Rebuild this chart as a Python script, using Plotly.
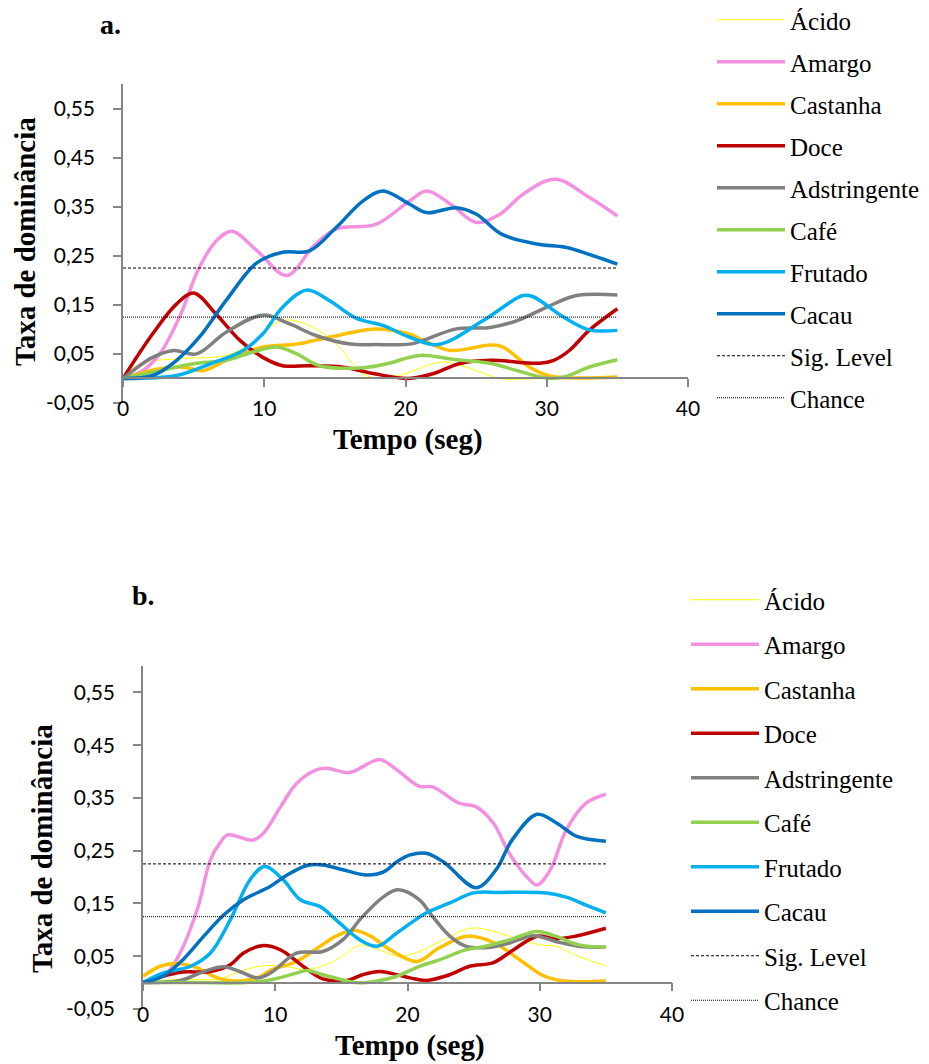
import plotly.graph_objects as go

W, H = 929, 1064
OFF = 8  # page body margin in the browser

NAMES = ["Ácido", "Amargo", "Castanha", "Doce", "Adstringente", "Café", "Frutado", "Cacau"]
COLORS = ["#FFFF00", "#F490E0", "#FFC000", "#C00000", "#808080", "#92D050", "#00B0F0", "#0070C0"]
WIDTHS = [1, 3.5, 3.5, 3.5, 3.5, 3.5, 3.5, 3.5]

Y_TICKS = [-0.05, 0.05, 0.15, 0.25, 0.35, 0.45, 0.55]
Y_TICK_TEXT = ["-0,05", "0,05", "0,15", "0,25", "0,35", "0,45", "0,55"]
X_TICKS = [0, 10, 20, 30, 40]

# ---------- Panel a ----------
A_ACIDO_T = [0, 1.2, 3.8, 7.3, 9, 11.3, 13.2, 15.1, 17, 18.4, 20.3, 22, 23.1, 25, 26.7, 30, 35]
A_ACIDO_V = [0, 0.03, 0.04, 0.047, 0.07, 0.118, 0.108, 0.07, 0.009, 0, 0.013, 0.031, 0.033, 0.016, 0, 0, 0]
A_AMARGO_T = [0, 1.4, 2.6, 4, 5.4, 6.6, 7.7, 9.5, 11.6, 13.5, 15.1, 17.9, 20.3, 21.5, 23.2, 25, 26.7, 28.3, 30.6, 33, 35]
A_AMARGO_V = [0, 0.016, 0.05, 0.125, 0.226, 0.28, 0.30, 0.26, 0.21, 0.27, 0.305, 0.314, 0.362, 0.382, 0.355, 0.318, 0.335, 0.375, 0.406, 0.369, 0.331]
A_CASTANHA_T = [0, 2.6, 4.3, 5.7, 7.3, 9.9, 12.3, 14.6, 17.9, 20.3, 21.5, 23.2, 26, 26.9, 28.8, 30.2, 32.1, 35]
A_CASTANHA_V = [0, 0.02, 0.023, 0.016, 0.037, 0.064, 0.07, 0.084, 0.101, 0.09, 0.074, 0.057, 0.068, 0.064, 0.023, 0.005, 0.001, 0.003]
A_DOCE_T = [0, 2.1, 3.8, 5, 6.6, 8.3, 9.9, 11.3, 13.2, 15.6, 17.9, 20.2, 22, 23.8, 26, 29.5, 30.5, 31.6, 33, 35]
A_DOCE_V = [0, 0.091, 0.152, 0.174, 0.131, 0.077, 0.043, 0.026, 0.026, 0.023, 0.009, 0, 0.01, 0.03, 0.037, 0.031, 0.037, 0.057, 0.098, 0.142]
A_ADSTR_T = [0, 2.1, 3.6, 5.2, 7.3, 9.9, 11.8, 13.7, 16.1, 17.9, 20.3, 21.2, 23.6, 26, 27.9, 30.2, 32.1, 35]
A_ADSTR_V = [0, 0.043, 0.057, 0.05, 0.094, 0.129, 0.111, 0.087, 0.07, 0.069, 0.07, 0.077, 0.101, 0.104, 0.118, 0.148, 0.169, 0.170]
A_CAFE_T = [0, 2.6, 5, 7.3, 9.2, 10.9, 12.3, 13.9, 17, 18.7, 21, 23.6, 26, 27.9, 30, 31.2, 33, 35]
A_CAFE_V = [0, 0.016, 0.03, 0.037, 0.054, 0.064, 0.05, 0.026, 0.022, 0.03, 0.047, 0.038, 0.031, 0.016, 0.001, 0.003, 0.023, 0.038]
A_FRUT_T = [0, 3.8, 6.2, 8.5, 9.9, 11.3, 13, 14.6, 16.5, 18.4, 20.3, 22.3, 25.5, 28.3, 29, 31.2, 33, 35]
A_FRUT_V = [0, 0.006, 0.03, 0.057, 0.091, 0.145, 0.18, 0.159, 0.123, 0.108, 0.084, 0.069, 0.118, 0.169, 0.167, 0.125, 0.099, 0.098]
A_CACAU_T = [0, 2.1, 3.8, 5.4, 7.3, 9.5, 11.3, 13.2, 15.1, 17, 18.4, 20.3, 21.5, 23.6, 25, 26.8, 29.3, 31.4, 33, 35]
A_CACAU_V = [0, 0.006, 0.037, 0.084, 0.159, 0.236, 0.257, 0.26, 0.308, 0.362, 0.382, 0.355, 0.338, 0.348, 0.335, 0.294, 0.274, 0.267, 0.253, 0.233]

# ---------- Panel b ----------
B_ACIDO_T = [0, 2.8, 5.8, 7.3, 9.1, 10.6, 12.4, 14.1, 15.4, 16.4, 17.7, 19.2, 20.8, 22.7, 24.7, 25.9, 27.7, 29.9, 31.2, 32.9, 35]
B_ACIDO_V = [0, 0.006, 0.007, 0.021, 0.032, 0.031, 0.025, 0.037, 0.056, 0.071, 0.064, 0.05, 0.058, 0.081, 0.103, 0.101, 0.088, 0.072, 0.069, 0.05, 0.032]
B_AMARGO_T = [0, 1.8, 2.8, 4.1, 5.1, 5.8, 6.4, 8.3, 9.1, 10.4, 11.6, 13.1, 13.9, 15.6, 16.6, 17.9, 19.2, 20.9, 21.9, 23.9, 25.2, 26.5, 27.7, 29, 29.8, 30.8, 32, 33.5, 35]
B_AMARGO_V = [0, 0.018, 0.056, 0.138, 0.233, 0.264, 0.28, 0.27, 0.283, 0.333, 0.377, 0.403, 0.406, 0.398, 0.409, 0.423, 0.403, 0.372, 0.371, 0.34, 0.333, 0.302, 0.245, 0.201, 0.185, 0.214, 0.289, 0.34, 0.357]
B_CASTANHA_T = [0, 1.3, 2.5, 4.1, 5.6, 6.8, 8.6, 9.8, 11.6, 13.4, 14.6, 15.9, 17.2, 18.7, 20.7, 22.4, 24.5, 26.5, 28.5, 30.3, 31.8, 35]
B_CASTANHA_V = [0.012, 0.031, 0.036, 0.028, 0.009, 0.003, 0.009, 0.025, 0.04, 0.069, 0.088, 0.099, 0.088, 0.062, 0.04, 0.066, 0.088, 0.076, 0.043, 0.013, 0.003, 0.003]
B_DOCE_T = [0, 1.5, 3, 5.1, 6.6, 7.6, 9, 10.4, 12.1, 13.6, 15.4, 16.6, 17.9, 19.2, 20.2, 21.4, 23.2, 24.7, 26.5, 28, 29.8, 31.2, 32.7, 35]
B_DOCE_V = [0, 0.012, 0.02, 0.021, 0.034, 0.056, 0.07, 0.062, 0.031, 0.007, 0.004, 0.015, 0.021, 0.015, 0.009, 0.004, 0.015, 0.031, 0.038, 0.062, 0.088, 0.083, 0.088, 0.103]
B_ADSTR_T = [0, 2.8, 4.6, 6.1, 7.3, 8.7, 9.8, 11.6, 13.6, 15.1, 16.6, 18.2, 19.3, 20.9, 21.9, 23.2, 24.4, 26.3, 27.7, 29.5, 31.2, 32.9, 35]
B_ADSTR_V = [0, 0.004, 0.021, 0.03, 0.021, 0.009, 0.021, 0.056, 0.059, 0.081, 0.125, 0.163, 0.176, 0.157, 0.125, 0.088, 0.069, 0.067, 0.075, 0.089, 0.078, 0.069, 0.067]
B_CAFE_T = [0, 4.1, 7.8, 9.8, 11.6, 12.4, 13.6, 16.1, 17.7, 19.2, 20.9, 22.4, 24.4, 25.9, 27.7, 29.8, 31.2, 32.9, 35]
B_CAFE_V = [0, 0, 0, 0.006, 0.018, 0.023, 0.015, 0, 0.003, 0.012, 0.031, 0.043, 0.062, 0.069, 0.081, 0.097, 0.088, 0.072, 0.067]
B_FRUT_T = [0, 1.5, 3.6, 5.1, 6.6, 8.1, 9.2, 10.6, 11.9, 13.4, 14.6, 16.4, 17.7, 19.2, 21.4, 23.2, 25, 27, 30.5, 32, 33.5, 35]
B_FRUT_V = [0, 0.018, 0.031, 0.056, 0.119, 0.195, 0.22, 0.195, 0.157, 0.144, 0.119, 0.081, 0.069, 0.094, 0.132, 0.151, 0.17, 0.171, 0.17, 0.162, 0.147, 0.132]
B_CACAU_T = [0, 1.5, 3, 4.6, 6.1, 7.6, 9.6, 10.9, 12.4, 13.6, 15.1, 16.9, 18.2, 19.2, 20.2, 21.4, 22.7, 25.2, 26.7, 27.9, 29.8, 31.3, 32.8, 35]
B_CACAU_V = [0, 0.012, 0.043, 0.088, 0.128, 0.157, 0.182, 0.204, 0.222, 0.223, 0.214, 0.204, 0.21, 0.229, 0.242, 0.245, 0.229, 0.18, 0.214, 0.27, 0.319, 0.302, 0.277, 0.268]

REF_T = [0, 35]
SIG_LEVEL = [0.225, 0.225]
CHANCE = [0.125, 0.125]

A_SERIES = [(A_ACIDO_T, A_ACIDO_V), (A_AMARGO_T, A_AMARGO_V), (A_CASTANHA_T, A_CASTANHA_V),
            (A_DOCE_T, A_DOCE_V), (A_ADSTR_T, A_ADSTR_V), (A_CAFE_T, A_CAFE_V),
            (A_FRUT_T, A_FRUT_V), (A_CACAU_T, A_CACAU_V)]
B_SERIES = [(B_ACIDO_T, B_ACIDO_V), (B_AMARGO_T, B_AMARGO_V), (B_CASTANHA_T, B_CASTANHA_V),
            (B_DOCE_T, B_DOCE_V), (B_ADSTR_T, B_ADSTR_V), (B_CAFE_T, B_CAFE_V),
            (B_FRUT_T, B_FRUT_V), (B_CACAU_T, B_CACAU_V)]

Y_RANGE = [-0.05, 0.6]
X_RANGE = [0, 40]

SERIF = "Liberation Serif, Times New Roman, serif"
SANS = "Lato, Calibri, sans-serif"
AXIS_GRAY = "#868686"

fig = go.Figure()


def add_panel(series, xref, xlab_ref, yref, legend):
    for i, (t, v) in enumerate(series):
        fig.add_trace(go.Scatter(
            x=t, y=v, mode="lines", name=NAMES[i],
            line=dict(color=COLORS[i], width=WIDTHS[i], shape="spline", smoothing=1.0),
            xaxis=xref, yaxis=yref, legend=legend, legendgroup=legend + str(i),
        ))
    fig.add_trace(go.Scatter(
        x=REF_T, y=SIG_LEVEL, mode="lines", name="Sig. Level",
        line=dict(color="black", width=1, dash="3px,2px"),
        xaxis=xlab_ref, yaxis=yref, legend=legend, legendgroup=legend + "8",
    ))
    fig.add_trace(go.Scatter(
        x=REF_T, y=CHANCE, mode="lines", name="Chance",
        line=dict(color="black", width=1, dash="1px,1px"),
        xaxis=xlab_ref, yaxis=yref, legend=legend, legendgroup=legend + "9",
    ))


add_panel(A_SERIES, "x", "x3", "y", "legend")
add_panel(B_SERIES, "x2", "x4", "y2", "legend2")


def sx(p):
    return (p - OFF) / W


def sy(p):
    return 1 - (p - OFF) / H


XA = [sx(123), sx(688)]
YA = [sy(403), sy(84)]
XB = [sx(143), sx(672)]
YB = [sy(1009), sy(666)]


def zero_pos(dom):
    return dom[0] + (0 - Y_RANGE[0]) / (Y_RANGE[1] - Y_RANGE[0]) * (dom[1] - dom[0])


yax = dict(range=Y_RANGE, tickmode="array", tickvals=Y_TICKS, ticktext=Y_TICK_TEXT, showline=True,
           linecolor=AXIS_GRAY, linewidth=1.5, ticks="outside", ticklen=8, tickwidth=1.5,
           tickcolor=AXIS_GRAY, showgrid=False, zeroline=False,
           tickfont=dict(family=SANS, size=21, color="black"), ticklabelstandoff=14)
xline = dict(range=X_RANGE, tickmode="array", tickvals=X_TICKS, showline=True, linecolor=AXIS_GRAY,
             linewidth=1.5, ticks="outside", ticklen=8, tickwidth=1.5, tickcolor=AXIS_GRAY,
             showticklabels=False, showgrid=False, zeroline=False)
xlab = dict(range=X_RANGE, tickmode="array", tickvals=X_TICKS, showline=False, ticks="",
            showticklabels=True, showgrid=False, zeroline=False, ticklabelstandoff=-9,
            tickfont=dict(family=SANS, size=21, color="black"))

legend_font = dict(family=SERIF, size=25, color="black")
fig.update_layout(
    width=W, height=H, margin=dict(l=0, r=0, t=0, b=0, autoexpand=False),
    paper_bgcolor="white", plot_bgcolor="white",
    xaxis=dict(**xline, domain=XA, anchor="free", position=zero_pos(YA)),
    yaxis=dict(**yax, domain=YA, anchor="x"),
    xaxis3=dict(**xlab, domain=XA, anchor="y", overlaying="x", side="bottom"),
    xaxis2=dict(**xline, domain=XB, anchor="free", position=zero_pos(YB)),
    yaxis2=dict(**yax, domain=YB, anchor="x2"),
    xaxis4=dict(**xlab, domain=XB, anchor="y2", overlaying="x2", side="bottom"),
    legend=dict(x=sx(712), y=sy(-3), xanchor="left", yanchor="top", traceorder="grouped",
                tracegroupgap=6.5, font=legend_font, bgcolor="rgba(0,0,0,0)", itemwidth=68),
    legend2=dict(x=sx(686), y=sy(577), xanchor="left", yanchor="top", traceorder="grouped",
                 tracegroupgap=9, font=legend_font, bgcolor="rgba(0,0,0,0)", itemwidth=68),
    showlegend=True,
)

title_font = dict(family=SERIF, size=29, color="black")
ann = [
    dict(text="<b>a.</b>", x=sx(110), y=sy(24), font=dict(family=SERIF, size=28, color="black")),
    dict(text="<b>b.</b>", x=sx(143), y=sy(595), font=dict(family=SERIF, size=28, color="black")),
    dict(text="<b>Tempo (seg)</b>", x=sx(408), y=sy(439), font=title_font),
    dict(text="<b>Tempo (seg)</b>", x=sx(410), y=sy(1045), font=title_font),
    dict(text="<b>Taxa de dominância</b>", x=sx(25), y=sy(242), textangle=-90, font=title_font),
    dict(text="<b>Taxa de dominância</b>", x=sx(42), y=sy(849), textangle=-90, font=title_font),
]
for a in ann:
    fig.add_annotation(xref="paper", yref="paper", xanchor="center", yanchor="middle",
                       showarrow=False, **a)

fig.write_html("out.html")
